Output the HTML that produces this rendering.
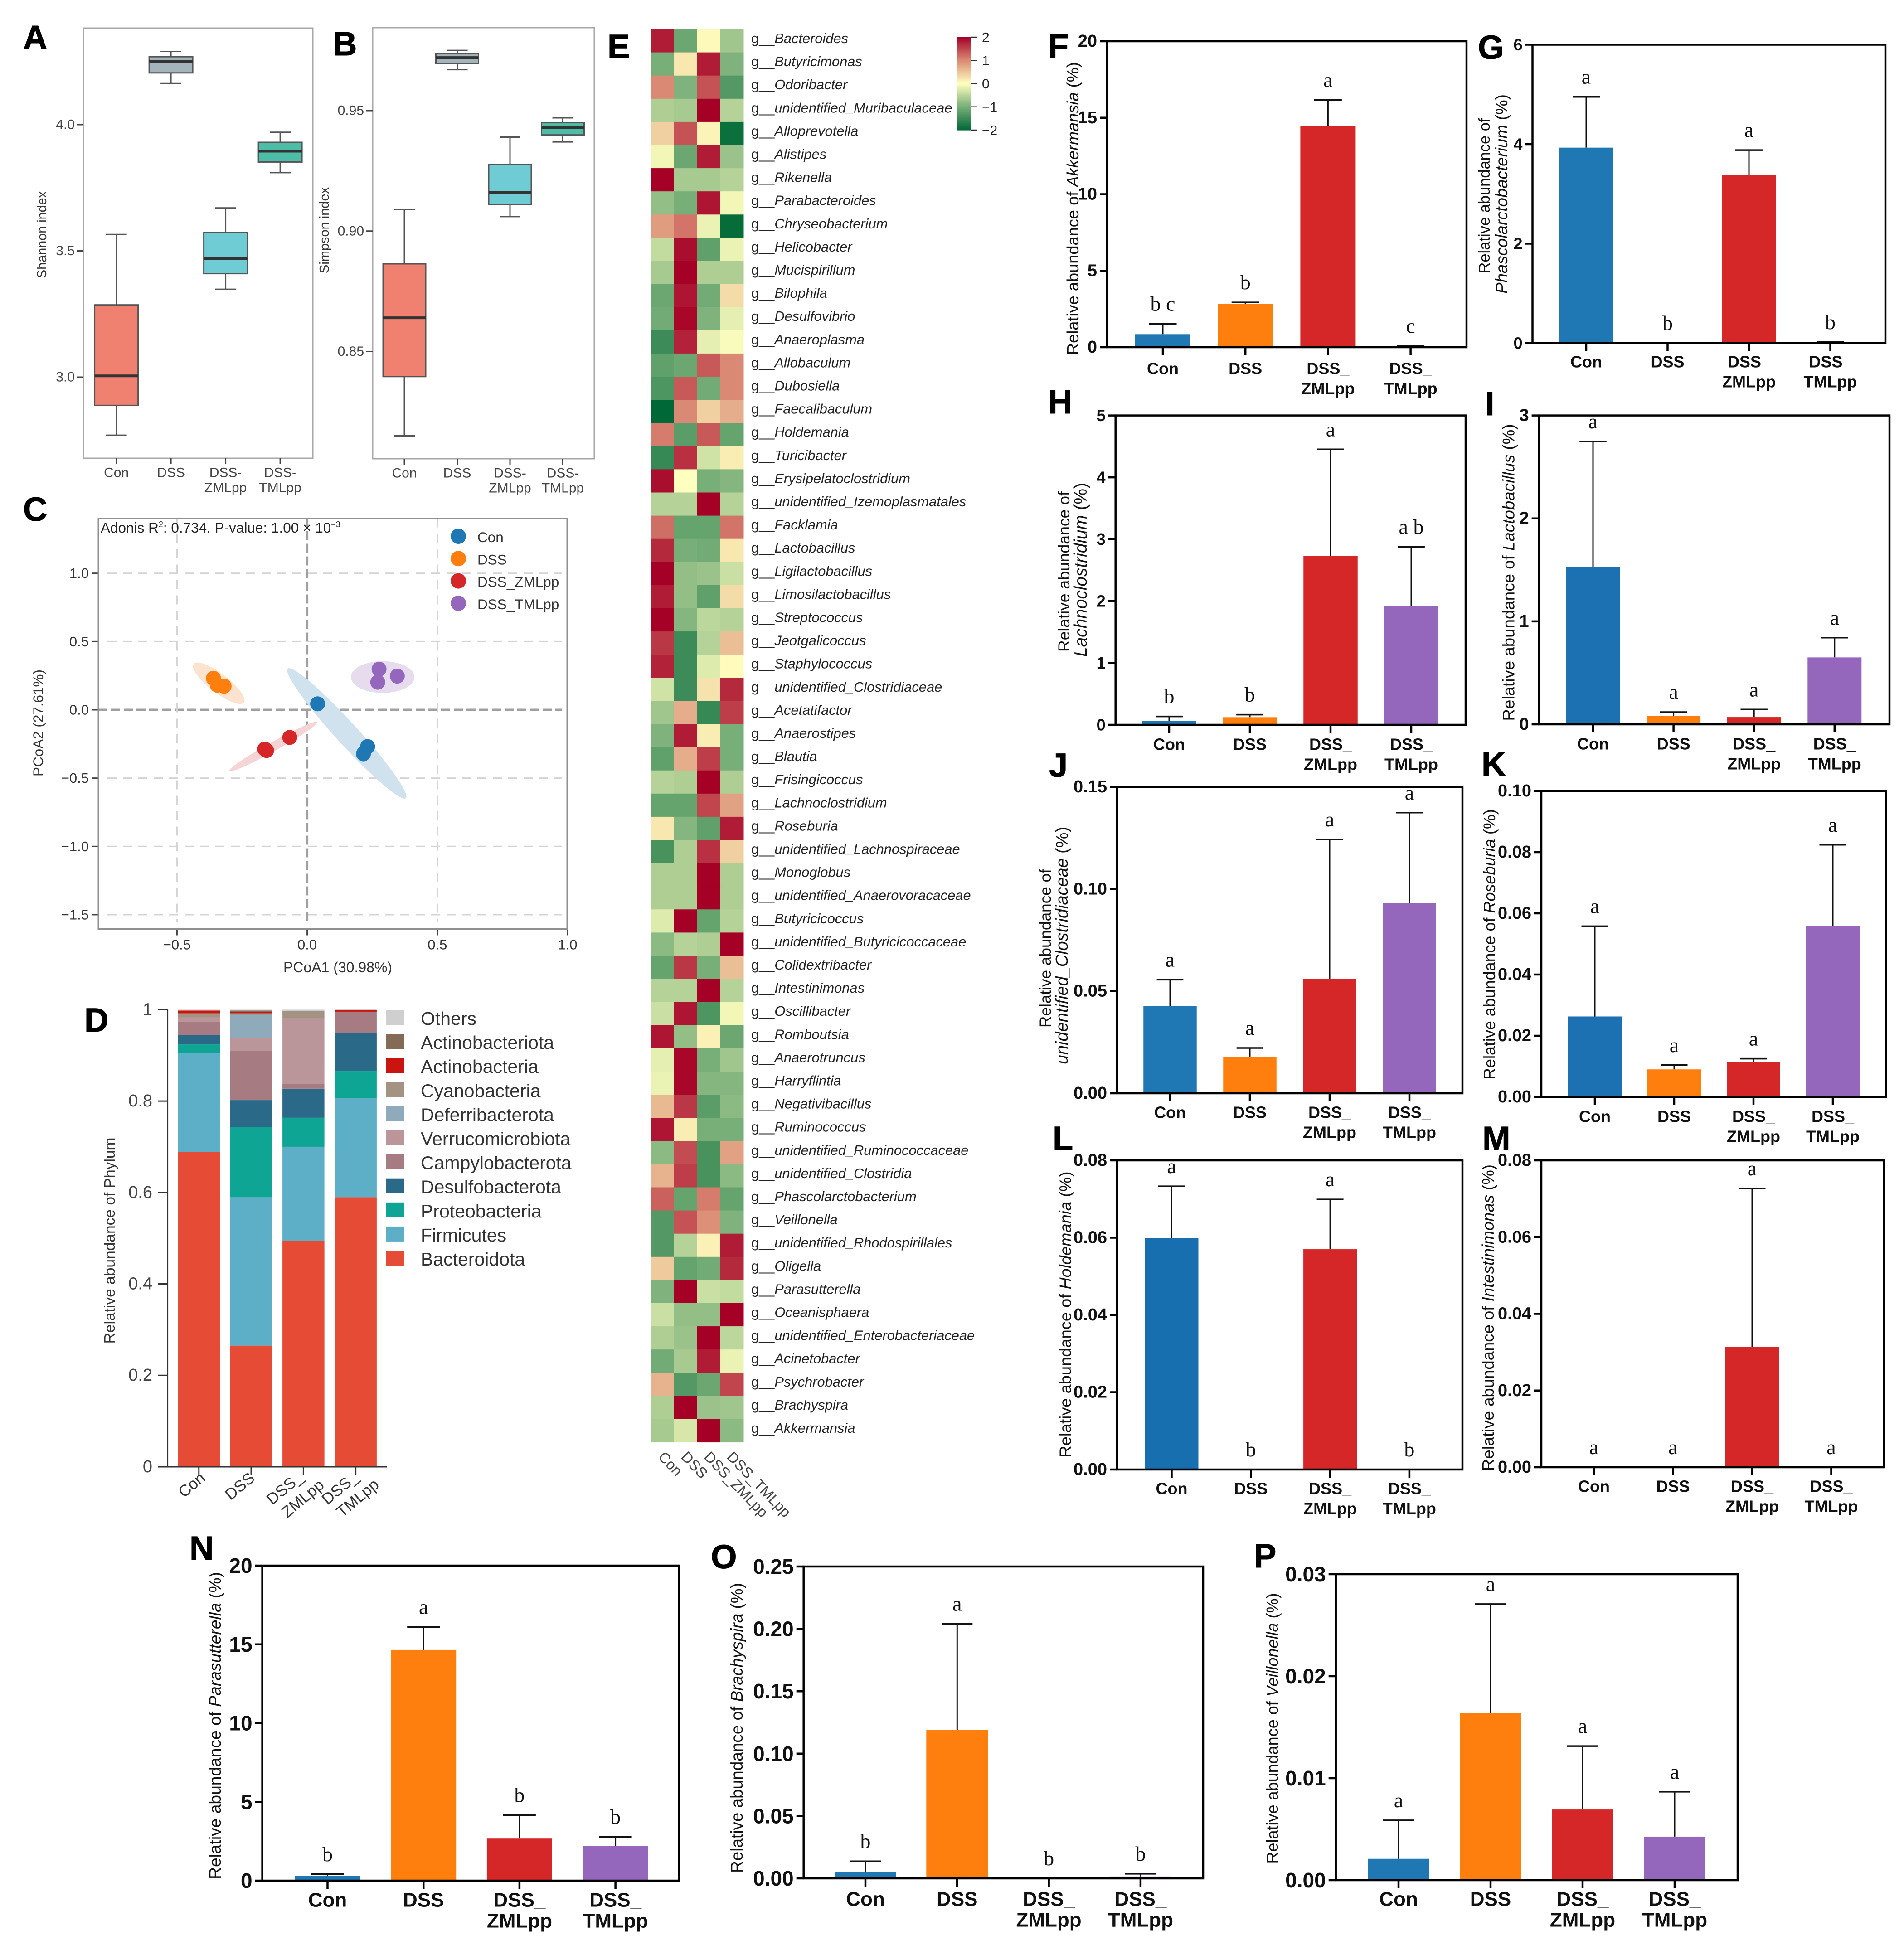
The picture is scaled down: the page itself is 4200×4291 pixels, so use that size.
<!DOCTYPE html>
<html lang="en">
<head>
<meta charset="utf-8">
<title>Gut microbiota composition figure</title>
<style>
html,body{margin:0;padding:0;background:#fff;}
svg{display:block;}
svg text{font-family:"Liberation Sans",Arial,sans-serif;}
.panel-letter{font-weight:bold;font-size:74px;fill:#000;stroke:#000;stroke-width:1;}
</style>
</head>
<body>
<svg id="figure" xmlns="http://www.w3.org/2000/svg" width="4200" height="4291" viewBox="0 0 4200 4291">
<rect x="0" y="0" width="4200" height="4291" fill="#fff"/>
<g id="panel-a"></g>
<g id="panel-b"></g>
<g id="panel-c"></g>
<g id="panel-d"></g>
<g id="panel-e"></g>
<g id="panel-f"></g>
<g id="panel-g"></g>
<g id="panel-h"></g>
<g id="panel-i"></g>
<g id="panel-j"></g>
<g id="panel-k"></g>
<g id="panel-l"></g>
<g id="panel-m"></g>
<g id="panel-n"></g>
<g id="panel-o"></g>
<g id="panel-p"></g>
<text class="panel-letter" x="51" y="108">A</text>
<text class="panel-letter" x="734" y="122">B</text>
<text class="panel-letter" x="51" y="1149">C</text>
<text class="panel-letter" x="186" y="2276">D</text>
<text class="panel-letter" x="1340" y="128">E</text>
<text class="panel-letter" x="2312" y="127">F</text>
<text class="panel-letter" x="3260" y="130">G</text>
<text class="panel-letter" x="2312" y="912">H</text>
<text class="panel-letter" x="3276" y="916">I</text>
<text class="panel-letter" x="2314" y="1714">J</text>
<text class="panel-letter" x="3268" y="1711">K</text>
<text class="panel-letter" x="2322" y="2537">L</text>
<text class="panel-letter" x="3270" y="2537">M</text>
<text class="panel-letter" x="418" y="3441">N</text>
<text class="panel-letter" x="1568" y="3460">O</text>
<text class="panel-letter" x="2766" y="3458">P</text>
</svg>
<script>
/* ---------- Panels A/B: box plots (low, q1, median, q3, high) ---------- */
const boxCategories = [['Con'], ['DSS'], ['DSS-', 'ZMLpp'], ['DSS-', 'TMLpp']];
const shannonStats = [
  [2.77, 2.888, 3.005, 3.286, 3.565],
  [4.163, 4.205, 4.25, 4.269, 4.29],
  [3.348, 3.41, 3.47, 3.572, 3.67],
  [3.81, 3.852, 3.895, 3.93, 3.97]
];
const simpsonStats = [
  [0.815, 0.8396, 0.864, 0.8864, 0.909],
  [0.967, 0.9695, 0.972, 0.9736, 0.975],
  [0.906, 0.911, 0.916, 0.9276, 0.939],
  [0.937, 0.9399, 0.943, 0.945, 0.947]
];
const shannonTicks = ['3.0', '3.5', '4.0'];
const simpsonTicks = ['0.85', '0.90', '0.95'];

/* ---------- Panel C: PCoA ---------- */
const pcoaGroups = ['Con', 'DSS', 'DSS_ZMLpp', 'DSS_TMLpp'];
const conPoints = [[0.04, 0.044], [0.232, -0.269], [0.216, -0.322]];
const dssPoints = [[-0.36, 0.231], [-0.345, 0.18], [-0.319, 0.173]];
const zmlPoints = [[-0.067, -0.202], [-0.163, -0.287], [-0.156, -0.298]];
const tmlPoints = [[0.276, 0.298], [0.346, 0.247], [0.271, 0.202]];
const conEllipse = [-0.075, 0.302, 0.379, -0.647, 0.125];
const dssEllipse = [-0.436, 0.336, -0.243, 0.053, 0.3];
const zmlEllipse = [-0.30, -0.449, 0.039, -0.089, 0.09];
const tmlEllipse = [0.168, 0.24, 0.412, 0.24, 0.5];
const pcoaXTicks = ['-0.5', '0.0', '0.5', '1.0'];
const pcoaYTicks = ['-1.5', '-1.0', '-0.5', '0.0', '0.5', '1.0'];

/* ---------- Panel D: stacked phylum bars ---------- */
const phylumCategories = [['Con'], ['DSS'], ['DSS_', 'ZMLpp'], ['DSS_', 'TMLpp']];
const bacteroidota = [0.689, 0.265, 0.494, 0.5895];
const firmicutes = [0.216, 0.3245, 0.206, 0.2175];
const proteobacteria = [0.019, 0.154, 0.0635, 0.0585];
const desulfobacterota = [0.020, 0.0585, 0.0635, 0.083];
const campylobacterota = [0.030, 0.108, 0.010, 0.046];
const verrucomicrobiota = [0.009, 0.0285, 0.144, 0.0];
const deferribacterota = [0.0, 0.0505, 0.0, 0.0005];
const cyanobacteria = [0.009, 0.003, 0.016, 0.0005];
const actinobacteria = [0.006, 0.003, 0.0, 0.003];
const actinobacteriota = [0.0, 0.003, 0.0, 0.0];
const others = [0.002, 0.002, 0.003, 0.002];
const phylumTicks = ['0', '0.2', '0.4', '0.6', '0.8', '1'];

/* ---------- Panel E: heatmap ---------- */
const heatmapColumns = ['Con', 'DSS', 'DSS_ZMLpp', 'DSS_TMLpp'];
const heatmapGenera = ['Bacteroides','Butyricimonas','Odoribacter','unidentified_Muribaculaceae','Alloprevotella','Alistipes','Rikenella','Parabacteroides','Chryseobacterium','Helicobacter','Mucispirillum','Bilophila','Desulfovibrio','Anaeroplasma','Allobaculum','Dubosiella','Faecalibaculum','Holdemania','Turicibacter','Erysipelatoclostridium','unidentified_Izemoplasmatales','Facklamia','Lactobacillus','Ligilactobacillus','Limosilactobacillus','Streptococcus','Jeotgalicoccus','Staphylococcus','unidentified_Clostridiaceae','Acetatifactor','Anaerostipes','Blautia','Frisingicoccus','Lachnoclostridium','Roseburia','unidentified_Lachnospiraceae','Monoglobus','unidentified_Anaerovoracaceae','Butyricicoccus','unidentified_Butyricicoccaceae','Colidextribacter','Intestinimonas','Oscillibacter','Romboutsia','Anaerotruncus','Harryflintia','Negativibacillus','Ruminococcus','unidentified_Ruminococcaceae','unidentified_Clostridia','Phascolarctobacterium','Veillonella','unidentified_Rhodospirillales','Oligella','Parasutterella','Oceanisphaera','unidentified_Enterobacteriaceae','Acinetobacter','Psychrobacter','Brachyspira','Akkermansia'];
const heatmapRows = [
[1.8,-1.1,0.05,-0.7],[-1.0,0.2,1.8,-0.95],[1.0,-0.95,1.4,-1.3],[-0.6,-0.65,2,-0.55],[0.4,1.4,0.1,-1.9],
[-0.1,-1.1,1.8,-0.75],[2,-0.65,-0.65,-0.55],[-0.8,-1.0,1.85,-0.1],[0.85,1.15,-0.15,-1.95],[-0.45,1.9,-1.2,-0.15],
[-0.65,2,-0.6,-0.6],[-1.1,1.85,-1.05,0.3],[-1.05,1.95,-0.95,-0.2],[-1.5,1.75,-0.2,-0.05],[-1.2,-1.1,1.35,1.0],
[-1.35,1.35,-1.05,1.0],[-2,1.0,0.4,0.7],[1.1,-1.25,1.35,-1.15],[-1.55,1.65,-0.35,0.15],[1.9,0,-1.0,-0.9],
[-0.55,-0.55,2,-0.55],[1.2,-1.15,-1.15,1.15],[1.7,-1.0,-1.05,0.2],[2,-0.8,-0.75,-0.4],[1.8,-0.8,-1.2,0.3],
[2,-0.9,-0.5,-0.55],[1.6,-1.5,-0.55,0.55],[1.75,-1.5,-0.25,0.03],[-0.35,-1.5,0.25,1.7],[-0.7,0.7,-1.55,1.55],
[-0.95,1.8,0.15,-1.0],[-1.2,0.7,1.55,-1.0],[-0.55,-0.6,2,-0.6],[-1.15,-1.15,1.5,0.8],[0.2,-0.9,-1.2,1.8],
[-1.4,-0.6,1.65,0.4],[-0.6,-0.6,2,-0.6],[-0.6,-0.6,2,-0.6],[-0.25,2,-1.15,-0.55],[-0.85,-0.55,-0.6,2],
[-1.15,1.6,-1.0,0.55],[-0.55,-0.55,2,-0.55],[-0.4,1.85,-1.35,-0.1],[1.85,-0.8,0.12,-1.1],[-0.2,1.95,-1.0,-0.7],
[-0.15,1.95,-0.9,-0.9],[0.6,1.6,-1.25,-0.85],[1.85,0.15,-1.0,-1.0],[-0.85,1.45,-1.4,0.8],[0.65,1.55,-1.4,-0.85],
[1.3,-1.15,1.1,-1.15],[-1.3,1.4,0.95,-0.95],[-1.3,-0.55,0.12,1.8],[0.45,-1.15,-1.05,1.7],[-0.95,2,-0.4,-0.45],
[-0.4,-0.8,-0.8,2],[-0.6,-0.75,2,-0.5],[-1.05,-0.65,1.8,-0.15],[0.65,-1.3,-1.1,1.5],[-0.6,2,-0.75,-0.7],[-0.65,-0.3,2,-0.85]
];
const colorbarTicks = [2, 1, 0, -1, -2];

/* ---------- Panels F-P: bars (values, upper error limit, letters, ticks) ---------- */
const barCategories = [['Con'], ['DSS'], ['DSS_', 'ZMLpp'], ['DSS_', 'TMLpp']];
const fValues = [0.85, 2.82, 14.47, 0.03];
const fErrors = [1.53, 2.93, 16.16, 0.07];
const fLetters = ['b c', 'b', 'a', 'c'];
const fTicks = ['0', '5', '10', '15', '20'];
const gValues = [3.93, 0, 3.38, 0.01];
const gErrors = [4.95, 0, 3.88, 0.02];
const gLetters = ['a', 'b', 'a', 'b'];
const gTicks = ['0', '2', '4', '6'];
const hValues = [0.059, 0.122, 2.73, 1.918];
const hErrors = [0.135, 0.164, 4.453, 2.876];
const hLetters = ['b', 'b', 'a', 'a b'];
const hTicks = ['0', '1', '2', '3', '4', '5'];
const iValues = [1.53, 0.083, 0.07, 0.65];
const iErrors = [2.747, 0.119, 0.144, 0.842];
const iLetters = ['a', 'a', 'a', 'a'];
const iTicks = ['0', '1', '2', '3'];
const jValues = [0.0428, 0.0178, 0.0561, 0.093];
const jErrors = [0.0556, 0.0222, 0.1243, 0.1374];
const jLetters = ['a', 'a', 'a', 'a'];
const jTicks = ['0.00', '0.05', '0.10', '0.15'];
const kValues = [0.0263, 0.009, 0.0115, 0.0559];
const kErrors = [0.0558, 0.0104, 0.0125, 0.0824];
const kLetters = ['a', 'a', 'a', 'a'];
const kTicks = ['0.00', '0.02', '0.04', '0.06', '0.08', '0.10'];
const lValues = [0.0599, 0, 0.057, 0];
const lErrors = [0.0733, 0, 0.0699, 0];
const lLetters = ['a', 'b', 'a', 'b'];
const lTicks = ['0.00', '0.02', '0.04', '0.06', '0.08'];
const mValues = [0, 0, 0.0314, 0];
const mErrors = [0, 0, 0.0727, 0];
const mLetters = ['a', 'a', 'a', 'a'];
const mTicks = ['0.00', '0.02', '0.04', '0.06', '0.08'];
const nValues = [0.31, 14.65, 2.67, 2.2];
const nErrors = [0.41, 16.1, 4.16, 2.78];
const nLetters = ['b', 'a', 'b', 'b'];
const nTicks = ['0', '5', '10', '15', '20'];
const oValues = [0.0048, 0.1189, 0, 0.0015];
const oErrors = [0.0137, 0.204, 0, 0.0037];
const oLetters = ['b', 'a', 'b', 'b'];
const oTicks = ['0.00', '0.05', '0.10', '0.15', '0.20', '0.25'];
const pValues = [0.0021, 0.01637, 0.00693, 0.00427];
const pErrors = [0.00587, 0.02707, 0.01315, 0.00867];
const pLetters = ['a', 'a', 'a', 'a'];
const pTicks = ['0.00', '0.01', '0.02', '0.03'];

/* ---------- helpers ---------- */
const SVGNS = 'http://www.w3.org/2000/svg';
function mk(tag, attrs, parent) {
  const e = document.createElementNS(SVGNS, tag);
  for (const k in attrs) e.setAttribute(k, attrs[k]);
  parent.appendChild(e);
  return e;
}
function lin(d0, d1, r0, r1) {
  return function (v) { return r0 + (v - d0) * (r1 - r0) / (d1 - d0); };
}
function addLine(parent, name, x1, y1, x2, y2, stroke, w, dash) {
  const l = mk('line', { x1: x1, y1: y1, x2: x2, y2: y2, stroke: stroke, 'stroke-width': w }, parent);
  if (dash) l.setAttribute('stroke-dasharray', dash);
  
  
  return l;
}
function addRect(parent, name, x, y, w, h, fill) {
  const r = mk('rect', { x: x, y: y, width: w, height: h, fill: fill }, parent);
  
  
  return r;
}
function addText(parent, name, str, x, y, fs, fill, anchor, weight) {
  const t = mk('text', { x: x, y: y, 'font-size': fs, fill: fill || '#000', 'text-anchor': anchor || 'middle', 'dominant-baseline': 'central' }, parent);
  if (weight) t.setAttribute('font-weight', weight);
  t.textContent = str;
  
  
  return t;
}
/* Rotated axis title; *word* marks italic runs; font size is fitted to the target length */
function addTitle(parent, name, str, x, y, len, fill) {
  const t = mk('text', { transform: 'translate(' + x + ',' + y + ') rotate(-90)', 'font-size': 32, fill: fill || '#000', 'text-anchor': 'middle', 'dominant-baseline': 'central' }, parent);
  str.split('*').forEach(function (seg, i) {
    if (!seg) return;
    const s = mk('tspan', {}, t);
    if (i % 2) s.setAttribute('font-style', 'italic');
    s.textContent = seg;
  });
  
  
  const real = t.getComputedTextLength();
  if (real > 0) t.setAttribute('font-size', (32 * len / real).toFixed(2));
  return t;
}

/* ---------- box plots ---------- */
function drawBox(p) {
  const g = document.getElementById(p.id);
  const y = lin(p.d0, p.d1, p.r0, p.r1);
  const r = mk('rect', { x: p.left, y: p.top, width: p.right - p.left, height: p.bottom - p.top, fill: 'none', stroke: '#a8a8a8', 'stroke-width': 3 }, g);
  
  
  p.ticks.forEach(function (tk) {
    const yy = y(Number(tk));
    addLine(g, 'y-tick', p.left - 15, yy, p.left, yy, '#444', 3);
    addText(g, 'y-tick-label', tk, p.left - 19, yy, 30, '#444', 'end');
  });
  addTitle(g, 'y-axis-title', p.title, p.titleX, p.titleY, p.titleLen, '#333');
  p.stats.forEach(function (s, i) {
    const c = p.c0 + i * p.step;
    addLine(g, 'whisker', c, y(s[0]), c, y(s[4]), '#555', 3);
    addLine(g, 'whisker-cap', c - 23, y(s[0]), c + 23, y(s[0]), '#555', 3);
    addLine(g, 'whisker-cap', c - 23, y(s[4]), c + 23, y(s[4]), '#555', 3);
    const b = mk('rect', { x: c - p.hw, y: y(s[3]), width: 2 * p.hw, height: y(s[1]) - y(s[3]), fill: p.colors[i], stroke: '#555', 'stroke-width': 3 }, g);
    
    
    addLine(g, 'median-line', c - p.hw, y(s[2]), c + p.hw, y(s[2]), '#333', 6);
    addLine(g, 'x-tick', c, p.bottom, c, p.bottom + 13, '#444', 3);
    boxCategories[i].forEach(function (ln, j) {
      addText(g, 'x-tick-label', ln, c, p.bottom + 32 + j * 33, 30, '#444');
    });
  });
}
const boxColors = ['#f08070', '#a3b4bd', '#70ccd4', '#4dbda8'];
drawBox({ id: 'panel-a', stats: shannonStats, ticks: shannonTicks, d0: 3.0, d1: 4.0, r0: 832, r1: 275, left: 184, right: 690, top: 62, bottom: 1011, c0: 256.6, step: 120.5, hw: 48, colors: boxColors, title: 'Shannon index', titleX: 93, titleY: 518, titleLen: 192 });
drawBox({ id: 'panel-b', stats: simpsonStats, ticks: simpsonTicks, d0: 0.85, d1: 0.95, r0: 775.5, r1: 244, left: 822, right: 1311, top: 61, bottom: 1012, c0: 892, step: 116.5, hw: 47, colors: boxColors, title: 'Simpson index', titleX: 716, titleY: 508, titleLen: 190 });

/* ---------- PCoA ---------- */
(function () {
  const g = document.getElementById('panel-c');
  const X = lin(0, 1, 677.6, 1252);
  const Y = lin(0, 1, 1566, 1264.7);
  const L = 217, R = 1251, T = 1143.5, B = 2049.5;
  const palette = ['#1f77b4', '#ff7f0e', '#d62728', '#9467bd'];
  const tint = ['#cfe2ee', '#fce3cf', '#f6d3d5', '#e6dcee'];
  pcoaYTicks.forEach(function (tk) {
    const v = Number(tk), yy = Y(v);
    if (v === 0) addLine(g, 'zero-line-horizontal', L, yy, 1240, yy, '#a0a0a0', 5, '20 8');
    else addLine(g, 'grid-line-horizontal', L + 20, yy, 1240, yy, '#d4d4d4', 3, '20 14');
    addLine(g, 'y-tick', L - 14, yy, L, yy, '#444', 3);
    addText(g, 'y-tick-label', tk.replace('-', '\u2212'), L - 21, yy, 31, '#333', 'end');
  });
  pcoaXTicks.forEach(function (tk) {
    const v = Number(tk), xx = X(v);
    if (v === 0) addLine(g, 'zero-line-vertical', xx, T, xx, 2035, '#a0a0a0', 5, '20 8');
    else if (v < 1) addLine(g, 'grid-line-vertical', xx, T, xx, 2035, '#d4d4d4', 3, '20 14');
    addLine(g, 'x-tick', xx, B, xx, B + 14, '#444', 3);
    addText(g, 'x-tick-label', tk.replace('-', '\u2212'), xx, 2084, 31, '#333');
  });
  const frame = mk('rect', { x: L, y: T, width: R - L, height: B - T, fill: 'none', stroke: '#909090', 'stroke-width': 3 }, g);
  
  
  [conEllipse, dssEllipse, zmlEllipse, tmlEllipse].forEach(function (e, i) {
    const x1 = X(e[0]), y1 = Y(e[1]), x2 = X(e[2]), y2 = Y(e[3]);
    const a = Math.hypot(x2 - x1, y2 - y1) / 2;
    const ang = Math.atan2(y2 - y1, x2 - x1) * 180 / Math.PI;
    const cx = (x1 + x2) / 2, cy = (y1 + y2) / 2;
    const el = mk('ellipse', { cx: cx, cy: cy, rx: a, ry: a * e[4], fill: tint[i], transform: 'rotate(' + ang + ' ' + cx + ' ' + cy + ')' }, g);
    
    
  });
  [conPoints, dssPoints, zmlPoints, tmlPoints].forEach(function (pts, i) {
    pts.forEach(function (pt) {
      const c = mk('circle', { cx: X(pt[0]), cy: Y(pt[1]), r: 16.5, fill: palette[i] }, g);
      
      
    });
  });
  pcoaGroups.forEach(function (name, i) {
    const ly = 1183 + i * 49.3;
    const c = mk('circle', { cx: 1011, cy: ly, r: 17, fill: palette[i] }, g);
    
    
    addText(g, 'legend-label', name, 1053, ly + 2, 31.5, '#333', 'start');
  });
  const ann = mk('text', { x: 222, y: 1175, 'font-size': 31.5, fill: '#222' }, g);
  
  
  ann.textContent = 'Adonis R';
  const s1 = mk('tspan', { 'font-size': 18, dy: -12 }, ann); s1.textContent = '2';
  const s2 = mk('tspan', { dy: 12 }, ann); s2.textContent = ': 0.734, P-value: 1.00 \u00d7 10';
  const s3 = mk('tspan', { 'font-size': 18, dy: -12 }, ann); s3.textContent = '\u22123';
  addText(g, 'x-axis-title', 'PCoA1 (30.98%)', 745, 2134, 32, '#333');
  addTitle(g, 'y-axis-title', 'PCoA2 (27.61%)', 84, 1595, 236, '#333');
})();

/* ---------- stacked bars ---------- */
(function () {
  const g = document.getElementById('panel-d');
  const Y = lin(0, 1, 3235.9, 2227.4);
  const series = [bacteroidota, firmicutes, proteobacteria, desulfobacterota, campylobacterota, verrucomicrobiota, deferribacterota, cyanobacteria, actinobacteria, actinobacteriota, others];
  const names = ['Bacteroidota', 'Firmicutes', 'Proteobacteria', 'Desulfobacterota', 'Campylobacterota', 'Verrucomicrobiota', 'Deferribacterota', 'Cyanobacteria', 'Actinobacteria', 'Actinobacteriota', 'Others'];
  const colors = ['#e64b35', '#5cafc7', '#0fa594', '#2a6a88', '#a67b82', '#ba969a', '#8faaba', '#a49282', '#c9140f', '#846b55', '#cfcfcf'];
  const bx = 392.5, bw = 92.5, bs = 115.3;
  phylumCategories.forEach(function (cat, c) {
    let acc = 0;
    series.forEach(function (s, k) {
      if (s[c] > 0) {
        addRect(g, 'segment-' + names[k].toLowerCase(), bx + c * bs, Y(acc + s[c]), bw, Y(acc) - Y(acc + s[c]), colors[k]);
      }
      acc += s[c];
    });
    addLine(g, 'x-tick', bx + c * bs + bw / 2, 3236, bx + c * bs + bw / 2, 3253, '#333', 3);
  });
  addLine(g, 'y-axis-line', 369.6, 2227, 369.6, 3237, '#333', 3);
  addLine(g, 'x-axis-line', 349, 3236, 854, 3236, '#333', 3);
  phylumTicks.forEach(function (tk) {
    const yy = Y(Number(tk));
    addLine(g, 'y-tick', 349, yy, 369, yy, '#333', 3);
    addText(g, 'y-tick-label', tk, 336, yy, 38, '#444', 'end');
  });
  addTitle(g, 'y-axis-title', 'Relative abundance of Phylum', 242, 2737, 455, '#333');
  const lblSpots = [[[423, 3276]], [[529, 3279]], [[628, 3283], [668, 3306]], [[750, 3283], [789, 3305]]];
  phylumCategories.forEach(function (cat, c) {
    cat.forEach(function (ln, j) {
      const t = addText(g, 'x-tick-label', ln, lblSpots[c][j][0], lblSpots[c][j][1], 35, '#333');
      t.setAttribute('transform', 'rotate(-40 ' + lblSpots[c][j][0] + ' ' + lblSpots[c][j][1] + ')');
    });
  });
  names.slice().reverse().forEach(function (nm, i) {
    const ly = 2228 + i * 53.1;
    addRect(g, 'legend-swatch-' + nm.toLowerCase(), 851, ly, 41, 33, colors[names.length - 1 - i]);
    addText(g, 'legend-label', nm, 928, ly + 19, 41, '#333', 'start');
  });
})();

/* ---------- heatmap ---------- */
(function () {
  const g = document.getElementById('panel-e');
  const stops = [[-2, [0, 104, 55]], [-1, [120, 174, 120]], [0, [255, 255, 191]], [1, [218, 138, 116]], [2, [165, 0, 38]]];
  function col(v) {
    v = Math.max(-2, Math.min(2, v));
    let i = 0;
    while (i < 3 && v > stops[i + 1][0]) i++;
    const f = v - stops[i][0];
    const a = stops[i][1], b = stops[i + 1][1];
    return 'rgb(' + [0, 1, 2].map(function (k) { return Math.round(a[k] + (b[k] - a[k]) * f); }).join(',') + ')';
  }
  const X0 = 1435.6, CW = 51.1, Y0 = 64.5, RH = 51.1;
  heatmapRows.forEach(function (row, r) {
    row.forEach(function (v, c) {
      addRect(g, 'heatmap-cell', X0 + c * CW, Y0 + r * RH, CW + 0.5, RH + 0.5, col(v));
    });
    const t = mk('text', { x: 1657, y: Y0 + r * RH + 25.5 + 5, 'font-size': 30.8, fill: '#222' }, g);
    
    
    const pre = mk('tspan', {}, t); pre.textContent = 'g__';
    const it = mk('tspan', { 'font-style': 'italic' }, t); it.textContent = heatmapGenera[r];
  });
  heatmapColumns.forEach(function (nm, c) {
    const x = 1458 + c * 50.5, y = 3208;
    const t = mk('text', { x: x, y: y, 'font-size': 32.5, fill: '#444', transform: 'rotate(46 ' + x + ' ' + y + ')', 'dominant-baseline': 'central' }, g);
    t.textContent = nm;
    
    
  });
  const cbY = lin(2, -2, 82, 287);
  for (let v = 2; v > -2; v -= 0.05) {
    addRect(g, 'colorbar-step', 2110.6, cbY(v), 31, cbY(v - 0.05) - cbY(v) + 0.6, col(v - 0.025));
  }
  colorbarTicks.forEach(function (v) {
    addLine(g, 'colorbar-tick', 2142, cbY(v), 2155, cbY(v), '#333', 2.5);
    addText(g, 'colorbar-label', String(v).replace('-', '\u2212'), 2166, cbY(v) + 1, 30, '#222', 'start');
  });
})();

/* ---------- bar panels ---------- */
const barColors = ['#1f77b4', '#ff7f0e', '#d62728', '#9467bd'];
function drawBars(p) {
  const g = document.getElementById(p.id);
  const top = Number(p.ticks[p.ticks.length - 1]);
  const y = lin(0, top, p.bottom, p.top);
  p.values.forEach(function (v, i) {
    const c = p.c0 + i * p.step;
    const ey = y(p.errors[i]);
    if (p.errors[i] > v) {
      addLine(g, 'error-bar', c, ey, c, y(v), '#111', 3);
      addLine(g, 'error-cap', c - p.bw / 4, ey, c + p.bw / 4, ey, '#111', 3.5);
    }
    const fill = i === 0 && p.blue ? p.blue : barColors[i];
    if (v > 0) addRect(g, 'bar-' + barCategories[i].join('').toLowerCase(), c - p.bw / 2, y(v), p.bw, p.bottom - y(v), fill);
    const lb = mk('text', { x: c, y: ey - 29, 'font-size': 46, fill: '#111', 'text-anchor': 'middle' }, g);
    lb.style.fontFamily = '"Liberation Serif",serif';
    lb.textContent = p.letters[i];
    
    
    addLine(g, 'x-tick', c, p.bottom, c, p.bottom + 18, '#000', 4.5);
    barCategories[i].forEach(function (ln, j) {
      addText(g, 'x-tick-label', ln, c, p.bottom + p.lab + j * p.lsp, p.lfs, '#111', 'middle', 'bold');
    });
  });
  const frame = mk('rect', { x: p.left, y: p.top, width: p.right - p.left, height: p.bottom - p.top, fill: 'none', stroke: '#000', 'stroke-width': 4.5 }, g);
  
  
  p.ticks.forEach(function (tk) {
    const yy = y(Number(tk));
    addLine(g, 'y-tick', p.left - 16, yy, p.left, yy, '#000', 4.5);
    addText(g, 'y-tick-label', tk, p.left - 22, yy, p.tfs, '#111', 'end', 'bold');
  });
  p.titles.forEach(function (tt) {
    addTitle(g, 'y-axis-title', tt[0], tt[1], tt[2], tt[3], '#111');
  });
}
drawBars({ id: 'panel-f', values: fValues, errors: fErrors, letters: fLetters, ticks: fTicks, left: 2442, right: 3235, top: 91, bottom: 766, c0: 2565, step: 182.2, bw: 122, lab: 47, lsp: 44, lfs: 36, tfs: 38,
  titles: [['Relative abundance of *Akkermansia* (%)', 2366, 460, 646]] });
drawBars({ id: 'panel-g', values: gValues, errors: gErrors, letters: gLetters, ticks: gTicks, left: 3380.5, right: 4159, top: 98.5, bottom: 757, c0: 3499, step: 179.5, bw: 120, lab: 41, lsp: 44, lfs: 36, tfs: 36,
  titles: [['Relative abundance of', 3275, 432, 343], ['*Phascolarctobacterium* (%)', 3312, 428, 440]] });
drawBars({ id: 'panel-h', values: hValues, errors: hErrors, letters: hLetters, ticks: hTicks, left: 2460.7, right: 3233, top: 916.6, bottom: 1599, c0: 2579, step: 178, bw: 119.5, lab: 43, lsp: 44, lfs: 36, tfs: 36,
  titles: [['Relative abundance of', 2347, 1261, 354], ['*Lachnoclostridium* (%)', 2384, 1257, 384]] });
drawBars({ id: 'panel-i', blue: '#1c71b3', values: iValues, errors: iErrors, letters: iLetters, ticks: iTicks, left: 3394.6, right: 4168, top: 916.6, bottom: 1598, c0: 3514, step: 177.6, bw: 119, lab: 43, lsp: 44, lfs: 36, tfs: 38,
  titles: [['Relative abundance of *Lactobacillus* (%)', 3327.6, 1263, 655]] });
drawBars({ id: 'panel-j', values: jValues, errors: jErrors, letters: jLetters, ticks: jTicks, left: 2464, right: 3226, top: 1736, bottom: 2412, c0: 2581, step: 176, bw: 117.5, lab: 42, lsp: 44, lfs: 36, tfs: 38,
  titles: [['Relative abundance of', 2306, 2092, 350], ['*unidentified_Clostridiaceae* (%)', 2343, 2086, 524]] });
drawBars({ id: 'panel-k', blue: '#1c71b3', values: kValues, errors: kErrors, letters: kLetters, ticks: kTicks, left: 3400, right: 4160, top: 1745, bottom: 2420, c0: 3518, step: 175, bw: 118, lab: 43, lsp: 44, lfs: 36, tfs: 38,
  titles: [['Relative abundance of *Roseburia* (%)', 3285, 2083.5, 597]] });
drawBars({ id: 'panel-l', blue: '#176fb0', values: lValues, errors: lErrors, letters: lLetters, ticks: lTicks, left: 2464, right: 3226, top: 2560, bottom: 3242, c0: 2584.5, step: 174.8, bw: 118, lab: 42, lsp: 44, lfs: 36, tfs: 38,
  titles: [['Relative abundance of *Holdemania* (%)', 2349.5, 2900, 631]] });
drawBars({ id: 'panel-m', values: mValues, errors: mErrors, letters: mLetters, ticks: mTicks, left: 3400, right: 4156, top: 2560, bottom: 3237, c0: 3516, step: 174.5, bw: 118, lab: 42, lsp: 44, lfs: 36, tfs: 38,
  titles: [['Relative abundance of *Intestinimonas* (%)', 3282, 2907, 676]] });
drawBars({ id: 'panel-n', values: nValues, errors: nErrors, letters: nLetters, ticks: nTicks, left: 578.6, right: 1498, top: 3454, bottom: 4149, c0: 722.5, step: 211.7, bw: 144, lab: 43, lsp: 46, lfs: 44, tfs: 46,
  titles: [['Relative abundance of *Parasutterella* (%)', 474, 3807, 678]] });
drawBars({ id: 'panel-o', values: oValues, errors: oErrors, letters: oLetters, ticks: oTicks, left: 1772.7, right: 2654, top: 3456, bottom: 4144, c0: 1909, step: 202.3, bw: 136, lab: 46, lsp: 46, lfs: 44, tfs: 46,
  titles: [['Relative abundance of *Brachyspira* (%)', 1625, 3812, 640]] });
drawBars({ id: 'panel-p', values: pValues, errors: pErrors, letters: pLetters, ticks: pTicks, left: 2946.7, right: 3833, top: 3473, bottom: 4148, c0: 3085, step: 203, bw: 136, lab: 42, lsp: 46, lfs: 44, tfs: 46,
  titles: [['Relative abundance of *Veillonella* (%)', 2806, 3813, 597]] });
</script>
</body>
</html>
